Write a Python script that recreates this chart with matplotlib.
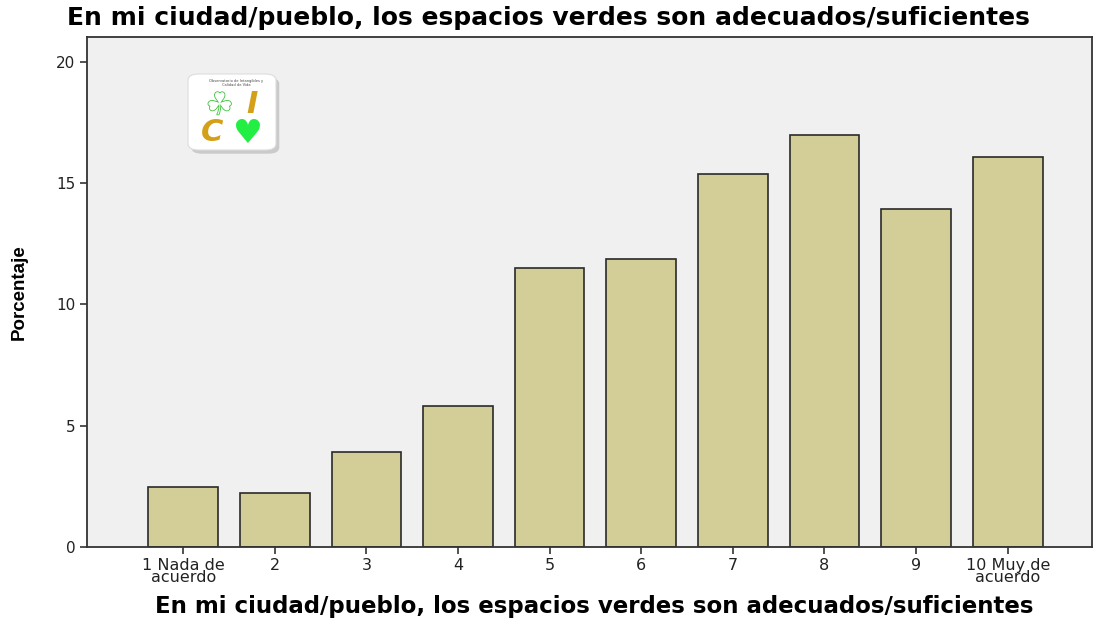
import matplotlib
matplotlib.use("Agg")
import matplotlib.pyplot as plt
from matplotlib.patches import FancyBboxPatch
import matplotlib.patheffects as pe

categories = ["1 Nada de\nacuerdo", "2", "3", "4", "5", "6", "7", "8", "9", "10 Muy de\nacuerdo"]
values = [2.47, 2.23, 3.92, 5.81, 11.5, 11.88, 15.38, 16.99, 13.94, 16.08]
yticks = [0, 5, 10, 15, 20]
title = "En mi ciudad/pueblo, los espacios verdes son adecuados/suficientes"

fig = plt.figure(figsize=(10.97, 6.18), dpi=100)
fig.patch.set_facecolor("white")
ax = fig.add_axes([87/1097, 71/618, (1092-87)/1097, (547-37)/618])
ax.set_facecolor("#F0F0F0")

x = list(range(len(categories)))
ax.bar(x, values, width=0.76, color="#D3CE97", edgecolor="#2a2a2a", linewidth=1.2, zorder=2)

ax.set_xlim(-1.05, 9.92)
ax.set_ylim(0, 21.03)
ax.set_yticks(yticks)
ax.set_yticklabels([str(t) for t in yticks], fontsize=11, family="DejaVu Sans", color="#222222")
ax.set_xticks(x)
ax.set_xticklabels(categories, fontsize=11.5, family="DejaVu Sans", color="#222222", linespacing=0.75)
ax.tick_params(axis="both", direction="out", length=5, width=1.2, color="#333333")
ax.tick_params(axis="x", pad=3)
for s in ax.spines.values():
    s.set_color("#333333")
    s.set_linewidth(1.3)

ax.set_ylabel("Porcentaje", fontsize=13.5, fontweight="bold", family="Liberation Sans", va="center")
ax.yaxis.set_label_coords(-0.067, 0.5)

fig.text(548/1097, 1 - 18/618, title, ha="center", va="center", fontsize=18, fontweight="bold",
         family="DejaVu Sans")
fig.text(594/1097, 1 - 607/618, title, ha="center", va="center", fontsize=16.45, fontweight="bold",
         family="DejaVu Sans")

# logo
lx0, ly0, lw, lh = 188/1097, 1 - 150/618, 88/1097, 76/618
shadow = FancyBboxPatch((lx0 + 0.003, ly0 - 0.006), lw, lh, boxstyle="round,pad=0.0,rounding_size=0.01",
                        transform=fig.transFigure, facecolor="#bbbbbb", edgecolor="none", alpha=0.7)
box = FancyBboxPatch((lx0, ly0), lw, lh, boxstyle="round,pad=0.0,rounding_size=0.01",
                     transform=fig.transFigure, facecolor="white", edgecolor="#dddddd", linewidth=0.8)
fig.add_artist(shadow)
fig.add_artist(box)
fig.text(lx0 + lw*0.55, ly0 + lh*0.88, "Observatorio de Intangibles y\nCalidad de Vida", ha="center", va="center",
         fontsize=2.6, linespacing=1.0, color="#444444")
clover = fig.text(lx0 + lw*0.36, ly0 + lh*0.58, "\u2618", ha="center", va="center", fontsize=22, color="white",
                  family="DejaVu Sans")
clover.set_path_effects([pe.withStroke(linewidth=1.2, foreground="#3cc43c")])
fig.text(lx0 + lw*0.73, ly0 + lh*0.60, "I", ha="center", va="center", fontsize=22, fontweight="bold",
         style="italic", color="#D4A017", family="DejaVu Sans")
fig.text(lx0 + lw*0.27, ly0 + lh*0.23, "C", ha="center", va="center", fontsize=22, fontweight="bold",
         style="italic", color="#D4A017", family="DejaVu Sans")
fig.text(lx0 + lw*0.67, ly0 + lh*0.22, "\u2665", ha="center", va="center", fontsize=24,
         color="#22EE44", family="DejaVu Sans")

fig.savefig("out.png", dpi=100)
